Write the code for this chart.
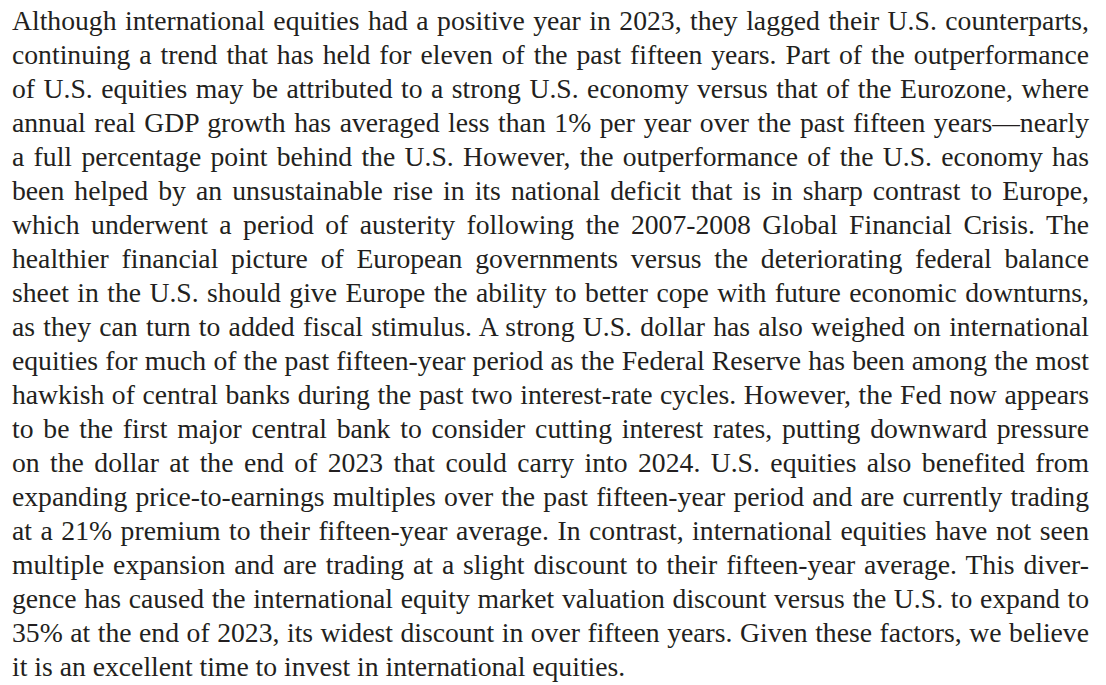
<!DOCTYPE html>
<html>
<head>
<meta charset="utf-8">
<script src="https://cdn.jsdelivr.net/npm/chart.js@4.4.1/dist/chart.umd.min.js"></script>
<style>
  html, body { margin: 0; padding: 0; background: #ffffff; }
  body { width: 1106px; height: 685px; overflow: hidden; }
  #text {
    position: absolute; left: 12px; top: 0px; width: 1077px;
    font-family: "Liberation Serif", serif;
    font-size: 24px; line-height: 34px; color: #231f20;
    font-variant-ligatures: common-ligatures;
  }
  .line { display: block; text-align: justify; text-align-last: justify; white-space: normal; }
  .line.last { text-align-last: left; }
  .measure { position: absolute; visibility: hidden; white-space: nowrap; }
</style>
</head>
<body>
<div id="text"></div>
<script>
// Paragraph lines, as broken in the reference
const lines = [
  "Although international equities had a positive year in 2023, they lagged their U.S. counterparts,",
  "continuing a trend that has held for eleven of the past fifteen years. Part of the outperformance",
  "of U.S. equities may be attributed to a strong U.S. economy versus that of the Eurozone, where",
  "annual real GDP growth has averaged less than 1% per year over the past fifteen years\u2014nearly",
  "a full percentage point behind the U.S. However, the outperformance of the U.S. economy has",
  "been helped by an unsustainable rise in its national deficit that is in sharp contrast to Europe,",
  "which underwent a period of austerity following the 2007-2008 Global Financial Crisis. The",
  "healthier financial picture of European governments versus the deteriorating federal balance",
  "sheet in the U.S. should give Europe the ability to better cope with future economic downturns,",
  "as they can turn to added fiscal stimulus. A strong U.S. dollar has also weighed on international",
  "equities for much of the past fifteen-year period as the Federal Reserve has been among the most",
  "hawkish of central banks during the past two interest-rate cycles. However, the Fed now appears",
  "to be the first major central bank to consider cutting interest rates, putting downward pressure",
  "on the dollar at the end of 2023 that could carry into 2024. U.S. equities also benefited from",
  "expanding price-to-earnings multiples over the past fifteen-year period and are currently trading",
  "at a 21% premium to their fifteen-year average. In contrast, international equities have not seen",
  "multiple expansion and are trading at a slight discount to their fifteen-year average. This diver-",
  "gence has caused the international equity market valuation discount versus the U.S. to expand to",
  "35% at the end of 2023, its widest discount in over fifteen years. Given these factors, we believe",
  "it is an excellent time to invest in international equities."
];

const box = document.getElementById('text');
const W = 1077;
// scale the font so the longest line just fills the measure, like the reference
const meas = document.createElement('span');
meas.className = 'measure';
box.appendChild(meas);
let maxW = 0;
lines.forEach(t => { meas.textContent = t; maxW = Math.max(maxW, meas.getBoundingClientRect().width); });
box.removeChild(meas);
const fs = Math.floor(24 * (W - 4) / maxW * 100) / 100;
box.style.fontSize = fs + 'px';
// place the first baseline near y=30 (ascent 0.891, content 1.107em for this face)
const lh = 34;
const baseInBox = (lh - 1.107 * fs) / 2 + 0.891 * fs;
box.style.top = (30 - baseInBox).toFixed(1) + 'px';
lines.forEach((t, i) => {
  const d = document.createElement('div');
  d.className = 'line' + (i === lines.length - 1 ? ' last' : '');
  d.textContent = t;
  box.appendChild(d);
});
</script>
</body>
</html>
